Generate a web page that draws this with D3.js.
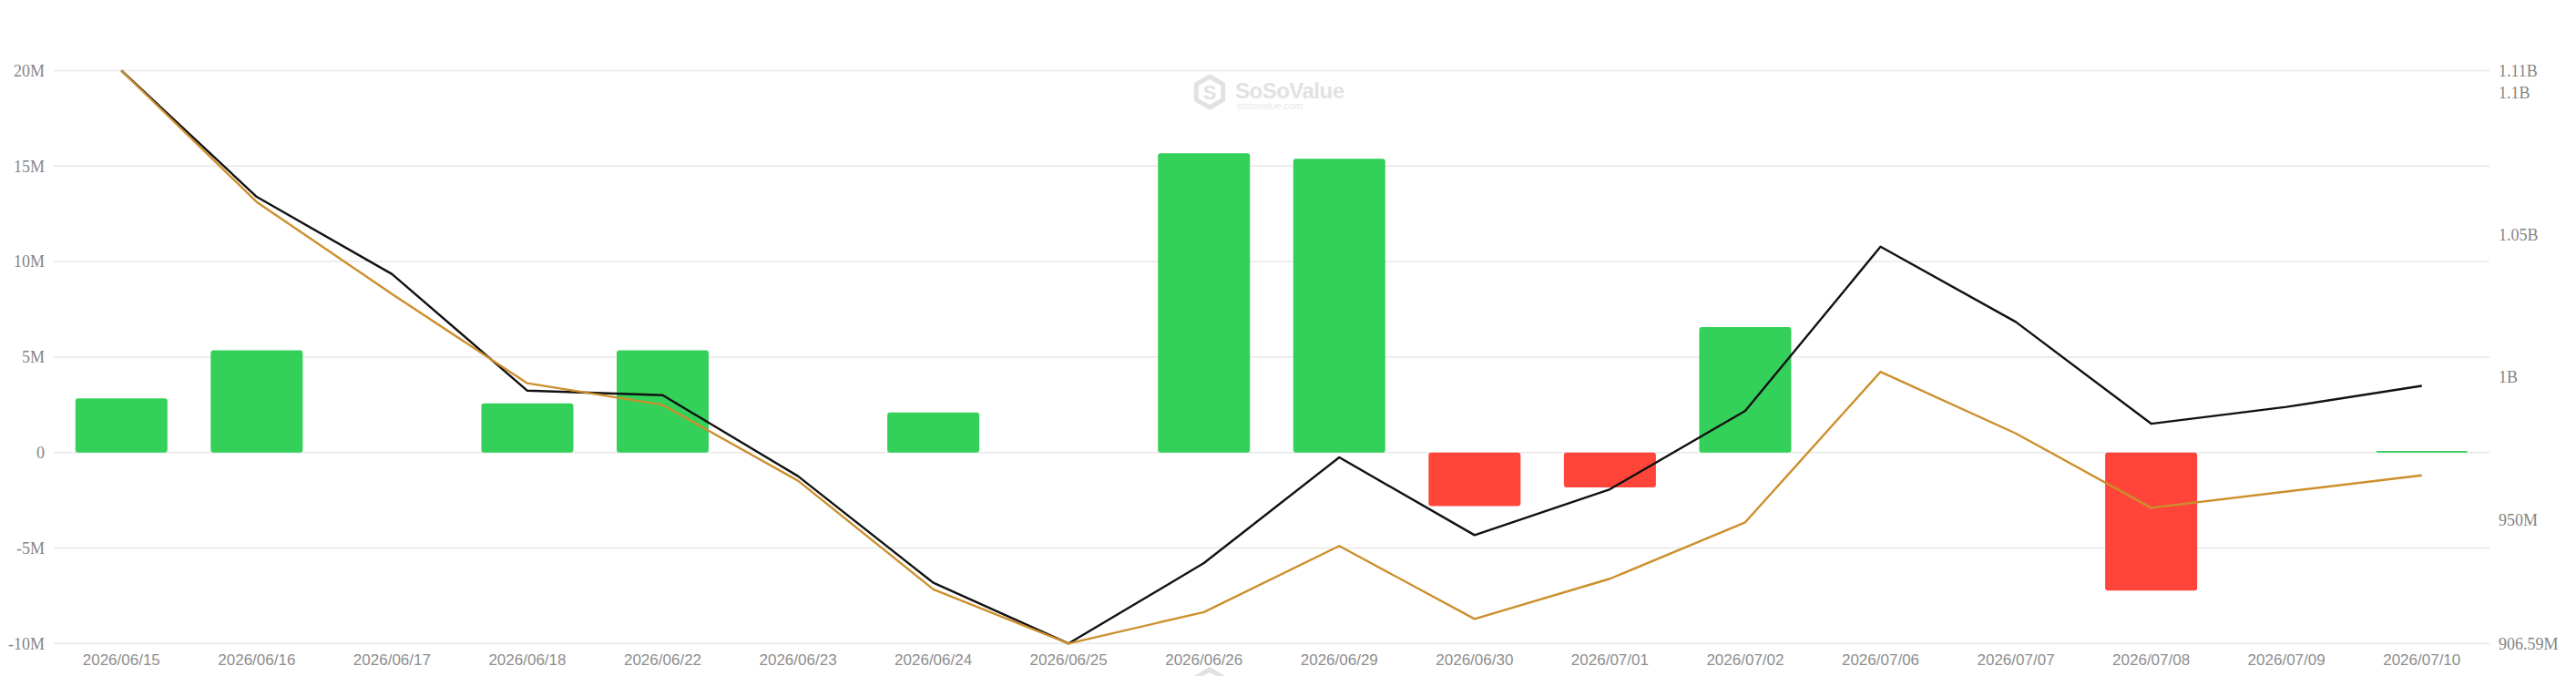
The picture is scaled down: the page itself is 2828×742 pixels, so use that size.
<!DOCTYPE html>
<html>
<head>
<meta charset="utf-8">
<script src="https://cdn.jsdelivr.net/npm/d3@7/dist/d3.min.js"></script>
<style>
  html, body { margin: 0; padding: 0; background: #ffffff; }
  svg { display: block; }
</style>
</head>
<body>
<script>
// ---------------- DATA ----------------
const dates = ["2026/06/15","2026/06/16","2026/06/17","2026/06/18","2026/06/22","2026/06/23",
  "2026/06/24","2026/06/25","2026/06/26","2026/06/29","2026/06/30","2026/07/01","2026/07/02",
  "2026/07/06","2026/07/07","2026/07/08","2026/07/09","2026/07/10"];

// daily net inflow, millions USD (left axis)
const netInflow = [2.84, 5.35, 0, 2.57, 5.35, 0, 2.10, 0, 15.67, 15.38, -2.80, -1.83, 6.57, 0, 0, -7.23, 0, 0.08];

// black line, millions USD (right axis)
const totalNetAssets = [1107.6, 1063.3, 1036.2, 995.3, 993.7, 965.3, 927.9, 906.59, 934.8, 971.9,
  944.6, 960.7, 988.2, 1045.8, 1019.4, 983.7, 989.6, 997.0];

// golden line, millions USD (right axis)
const goldLine = [1107.6, 1061.5, 1029.2, 997.9, 990.3, 963.7, 925.6, 906.59, 917.6, 940.8,
  915.2, 929.3, 949.1, 1001.9, 980.3, 954.2, 959.9, 965.6];

const leftTicks = [-10, -5, 0, 5, 10, 15, 20];
const rightInnerTicks = [950, 1000, 1050, 1100];

// ---------------- LAYOUT ----------------
const W = 2828, H = 742;
const plot = { left: 59, right: 2733, top: 77.5, bottom: 706.3 };

const svg = d3.select("body").append("svg")
  .attr("width", W).attr("height", H)
  .attr("viewBox", `0 0 ${W} ${H}`);

svg.append("rect").attr("width", W).attr("height", H).attr("fill", "#ffffff");

const x = d3.scaleBand().domain(dates).range([plot.left, plot.right]).paddingInner(0).paddingOuter(0);
const yL = d3.scaleLinear().domain([d3.min(leftTicks), d3.max(leftTicks)]).range([plot.bottom, plot.top]);
const rMin = d3.min(totalNetAssets.concat(goldLine));
const rMax = d3.max(totalNetAssets.concat(goldLine));
const yR = d3.scaleLinear().domain([rMin, rMax]).range([plot.bottom, plot.top]);

const rightTicks = [rMin].concat(rightInnerTicks, [rMax]);

// ---------------- WATERMARK ----------------
function watermarkIcon(g) {
  const c = "#e2e2e2";
  const hx = 17, hy = 19, r = 17;
  const pts = d3.range(6).map(i => {
    const a = Math.PI / 180 * (60 * i - 90);
    return [hx + r * Math.cos(a), hy + r * Math.sin(a)];
  });
  g.append("path").attr("d", d3.line()(pts) + "Z")
    .attr("fill", "none").attr("stroke", c).attr("stroke-width", 5).attr("stroke-linejoin", "round");
  return c;
}
function watermark(g) {
  const c = watermarkIcon(g);
  g.append("text").attr("x", 17).attr("y", 27).attr("text-anchor", "middle")
    .attr("font-family", "Liberation Sans, Arial, sans-serif").attr("font-weight", "bold")
    .attr("font-size", 22).attr("fill", c).text("S");
  g.append("text").attr("x", 45).attr("y", 26)
    .attr("font-family", "Liberation Sans, Arial, sans-serif").attr("font-weight", "bold")
    .attr("font-size", 24).attr("fill", c).attr("letter-spacing", -0.5).text("SoSoValue");
  g.append("text").attr("x", 46).attr("y", 38)
    .attr("font-family", "Liberation Sans, Arial, sans-serif").attr("font-style", "italic")
    .attr("font-size", 11).attr("fill", "#e8e8e8").text("sosovalue.com");
}
watermark(svg.append("g").attr("transform", "translate(1311,82)"));
watermarkIcon(svg.append("g").attr("transform", "translate(1311,733)"));

// ---------------- GRID ----------------
svg.append("g").selectAll("line").data(leftTicks).join("line")
  .attr("x1", plot.left).attr("x2", plot.right)
  .attr("y1", d => yL(d)).attr("y2", d => yL(d))
  .attr("stroke", "#e8e8e8").attr("stroke-width", 1.5);

// ---------------- AXES ----------------
const fmtLeft = v => v === 0 ? "0" : `${v}M`;
const fmtRight = v => {
  if (v >= 1000) return `${+(v / 1000).toFixed(2)}B`;
  return `${+v.toFixed(2)}M`;
};

const leftAxis = d3.axisLeft(yL).tickValues(leftTicks).tickFormat(fmtLeft).tickSize(0).tickPadding(10);
const gL = svg.append("g").attr("transform", `translate(${plot.left},0)`).call(leftAxis);
gL.select(".domain").remove();
gL.selectAll("text").attr("font-family", "Liberation Serif, Times New Roman, serif")
  .attr("font-size", 18).attr("fill", "#858585");

const rightAxis = d3.axisRight(yR).tickValues(rightTicks).tickFormat(fmtRight).tickSize(0).tickPadding(10);
const gR = svg.append("g").attr("transform", `translate(${plot.right},0)`).call(rightAxis);
gR.select(".domain").remove();
gR.selectAll("text").attr("font-family", "Liberation Serif, Times New Roman, serif")
  .attr("font-size", 18).attr("fill", "#858585");

const bottomAxis = d3.axisBottom(x).tickSize(0).tickPadding(12);
const gB = svg.append("g").attr("transform", `translate(0,${plot.bottom})`).call(bottomAxis);
gB.select(".domain").remove();
gB.selectAll("text").attr("font-family", "Liberation Sans, Arial, sans-serif")
  .attr("font-size", 17).attr("fill", "#8e8e8e");

// ---------------- BARS ----------------
const barW = 101;
svg.append("g").selectAll("rect").data(dates.map((d, i) => ({ d, v: netInflow[i] })).filter(o => o.v !== 0))
  .join("rect")
  .attr("x", o => x(o.d) + x.bandwidth() / 2 - barW / 2)
  .attr("width", barW)
  .attr("y", o => Math.min(yL(o.v), yL(0)))
  .attr("height", o => Math.max(1.5, Math.abs(yL(o.v) - yL(0))))
  .attr("rx", 3).attr("ry", 3)
  .attr("fill", o => o.v >= 0 ? "#33d05a" : "#ff453a");

// ---------------- LINES ----------------
const cx = d => x(d) + x.bandwidth() / 2;
const lineGen = vals => d3.line().x((d, i) => cx(dates[i])).y(d => yR(d))(vals);

svg.append("path").attr("d", lineGen(totalNetAssets))
  .attr("fill", "none").attr("stroke", "#111111").attr("stroke-width", 2.4)
  .attr("stroke-linejoin", "round");
svg.append("path").attr("d", lineGen(goldLine))
  .attr("fill", "none").attr("stroke", "#cc8f2c").attr("stroke-width", 2.4)
  .attr("stroke-linejoin", "round");
</script>
</body>
</html>
